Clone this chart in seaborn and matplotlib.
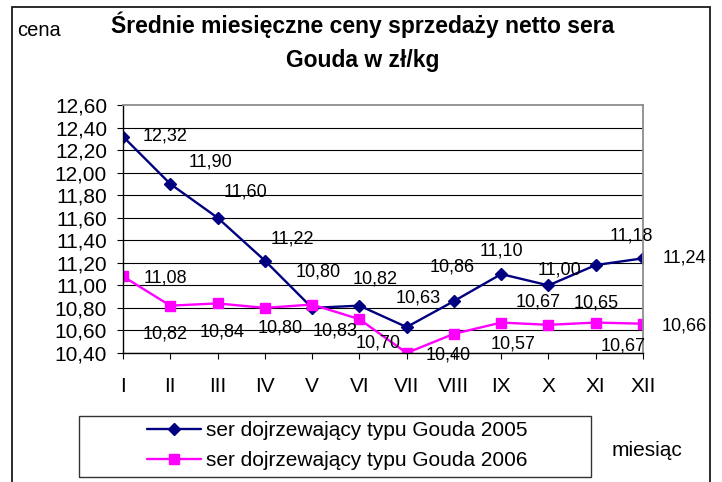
import numpy as np
import seaborn as sns
import matplotlib
matplotlib.use('Agg')
from matplotlib import pyplot as plt
from matplotlib.patches import Rectangle

months = ['I', 'II', 'III', 'IV', 'V', 'VI', 'VII', 'VIII', 'IX', 'X', 'XI', 'XII']
ceny_2005 = [12.32, 11.90, 11.60, 11.22, 10.80, 10.82, 10.63, 10.86, 11.10, 11.00, 11.18, 11.24]
ceny_2006 = [11.08, 10.82, 10.84, 10.80, 10.83, 10.70, 10.40, 10.57, 10.67, 10.65, 10.67, 10.66]
names = ['ser dojrzewający typu Gouda 2005', 'ser dojrzewający typu Gouda 2006']
y_ticks = [10.40, 10.60, 10.80, 11.00, 11.20, 11.40, 11.60, 11.80, 12.00, 12.20, 12.40, 12.60]
title = 'Średnie miesięczne ceny sprzedaży netto sera\nGouda w zł/kg'

# label offsets in pixels (right, down) - mimic the excel placement
off_2005 = [(42, -1), (40, -22), (28, -26), (28, -22), (6, -36), (16, -27),
            (12, -29), (-2, -34), (0, -23), (11, -15), (36, -29), (41, 0)]
off_2006 = [(42, 2), (-5, 28), (5, 29), (15, 20), (23, 26), (19, 24),
            (42, 2), (59, 10), (37, -21), (48, -22), (27, 23), (41, 2)]

navy, pink = '#000080', '#FF00FF'
W, H = 722, 482

sns.set_style('white', {'text.color': 'black', 'axes.labelcolor': 'black',
                        'xtick.color': 'black', 'ytick.color': 'black'})
plt.rcParams['font.family'] = ['Liberation Sans', 'DejaVu Sans']

fig = plt.figure(figsize=(W / 100, H / 100), dpi=100)
ax = fig.add_axes([123 / W, 1 - 353 / H, 520 / W, 248 / H])

x = np.arange(len(months))
sns.lineplot(x=x, y=ceny_2005, ax=ax, color=navy, lw=1.7, marker='D', markersize=6.5,
             markeredgecolor=navy, markeredgewidth=1, label=names[0])
sns.lineplot(x=x, y=ceny_2006, ax=ax, color=pink, lw=1.7, marker='s', markersize=7.5,
             markeredgecolor=pink, markeredgewidth=1, label=names[1])


def fmt(v):
    return f'{v:.2f}'.replace('.', ',')


for vals, offs in [(ceny_2005, off_2005), (ceny_2006, off_2006)]:
    for xi, v, (dx, dy) in zip(x, vals, offs):
        ax.annotate(fmt(v), (xi, v), xytext=(dx * 0.72, -dy * 0.72),
                    textcoords='offset points', ha='center', va='center',
                    fontsize=13, annotation_clip=False)

ax.set_xlim(0, len(months) - 1)
ax.set_ylim(y_ticks[0], y_ticks[-1])
ax.set_xticks(x)
ax.set_xticklabels(months)
ax.set_yticks(y_ticks)
ax.set_yticklabels([fmt(t) for t in y_ticks])
ax.tick_params(axis='y', left=True, direction='out', length=4.5, width=0.8, pad=7, labelsize=15)
ax.tick_params(axis='x', bottom=True, direction='out', length=4.5, width=0.8, pad=13, labelsize=15)
ax.grid(axis='y', color='black', lw=0.8)
ax.grid(axis='x', visible=False)
ax.yaxis.get_gridlines()[-1].set_visible(False)
ax.set_axisbelow(True)
ax.set_xlabel('')
ax.set_ylabel('')
for s in ['left', 'bottom']:
    ax.spines[s].set_color('black')
    ax.spines[s].set_linewidth(1)
for s in ['top', 'right']:
    ax.spines[s].set_color('#8c8c8c')
    ax.spines[s].set_linewidth(1.3)

handles, labels = ax.get_legend_handles_labels()
ax.get_legend().remove()
fig.legend(handles, labels, loc='center', bbox_to_anchor=(337 / W, 1 - 445.5 / H),
           frameon=False, fontsize=15, handlelength=2.6, handletextpad=0.25,
           labelspacing=0.52, borderpad=0)
fig.add_artist(Rectangle((79 / W, 1 - 477 / H), 512 / W, 61 / H, transform=fig.transFigure,
                         fill=False, ec='#333333', lw=1))

fig.add_artist(Rectangle((12 / W, -0.1), 698 / W, 1.1 - 7 / H, transform=fig.transFigure,
                         fill=False, ec='#1a1a1a', lw=1.3, clip_on=False))

fig.text(363 / W, 1 - 42 / H, title, ha='center', va='center', fontsize=16.5,
         fontweight='bold', linespacing=1.6)
fig.text(17 / W, 1 - 31 / H, 'cena', ha='left', va='center', fontsize=14.5)
fig.text(612 / W, 1 - 450 / H, 'miesiąc', ha='left', va='center', fontsize=15)

fig.savefig('out.png', dpi=100)
